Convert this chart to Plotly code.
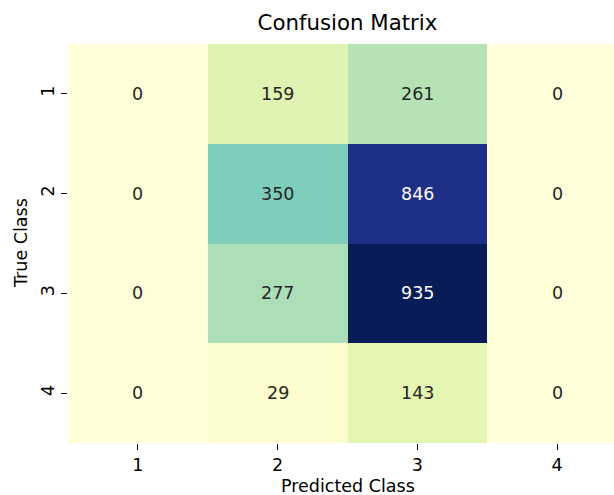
import plotly.graph_objects as go

classes = ["1", "2", "3", "4"]
matrix = [
    [0, 159, 261, 0],
    [0, 350, 846, 0],
    [0, 277, 935, 0],
    [0, 29, 143, 0],
]
title_text = "Confusion Matrix"
x_label = "Predicted Class"
y_label = "True Class"

W, H = 614, 495
L, T, B = 68, 44, 52
cell_w = 139.75
full_right = L + cell_w * len(classes)
x_hi = len(classes) - 0.5 - (full_right - W) / cell_w
PW, PH = W - L, H - T - B

zmax = max(max(r) for r in matrix)
idx = list(range(len(classes)))
FS = 17.5

fig = go.Figure(go.Heatmap(
    z=matrix, x=idx, y=idx,
    colorscale="YlGnBu",
    zmin=0, zmax=zmax, showscale=False, hoverinfo="skip",
))

for i, row in enumerate(matrix):
    for j, v in enumerate(row):
        col = "white" if v / zmax > 0.6 else "#262626"
        fig.add_annotation(x=j, y=i, text=str(v), showarrow=False,
                           font=dict(size=FS, color=col, family="DejaVu Sans"))

# axis titles
fig.add_annotation(xref="paper", yref="paper",
                   x=((L + full_right) / 2 - L) / PW, y=-(486 - (T + PH)) / PH,
                   xanchor="center", yanchor="middle", showarrow=False,
                   text=x_label, font=dict(size=FS, color="black"))
fig.add_annotation(xref="paper", yref="paper",
                   x=(20.5 - L) / PW, y=0.5, textangle=-90,
                   xanchor="center", yanchor="middle", showarrow=False,
                   text=y_label, font=dict(size=FS, color="black"))

fig.update_layout(
    width=W, height=H,
    margin=dict(l=L, r=0, t=T, b=B),
    plot_bgcolor="white", paper_bgcolor="white",
    font=dict(family="DejaVu Sans", color="black", size=FS),
    title=dict(text=title_text, x=(L + full_right) / 2 / W, xref="container",
               xanchor="center", y=1 - 23 / H, yref="container", yanchor="middle",
               font=dict(size=21.3, color="black")),
)
fig.update_xaxes(range=[-0.5, x_hi], tickvals=idx, ticktext=classes,
                 ticks="outside", ticklen=6, tickcolor="black", showgrid=False,
                 zeroline=False, showline=False, automargin=False)
fig.update_yaxes(range=[len(classes) - 0.5, -0.5], tickvals=idx, ticktext=classes,
                 ticks="outside", ticklen=6, tickcolor="black", showgrid=False,
                 zeroline=False, showline=False, tickangle=-90, automargin=False)

fig.write_html("out.html", config={"displayModeBar": False},
               post_script="document.body.style.margin='0';")
